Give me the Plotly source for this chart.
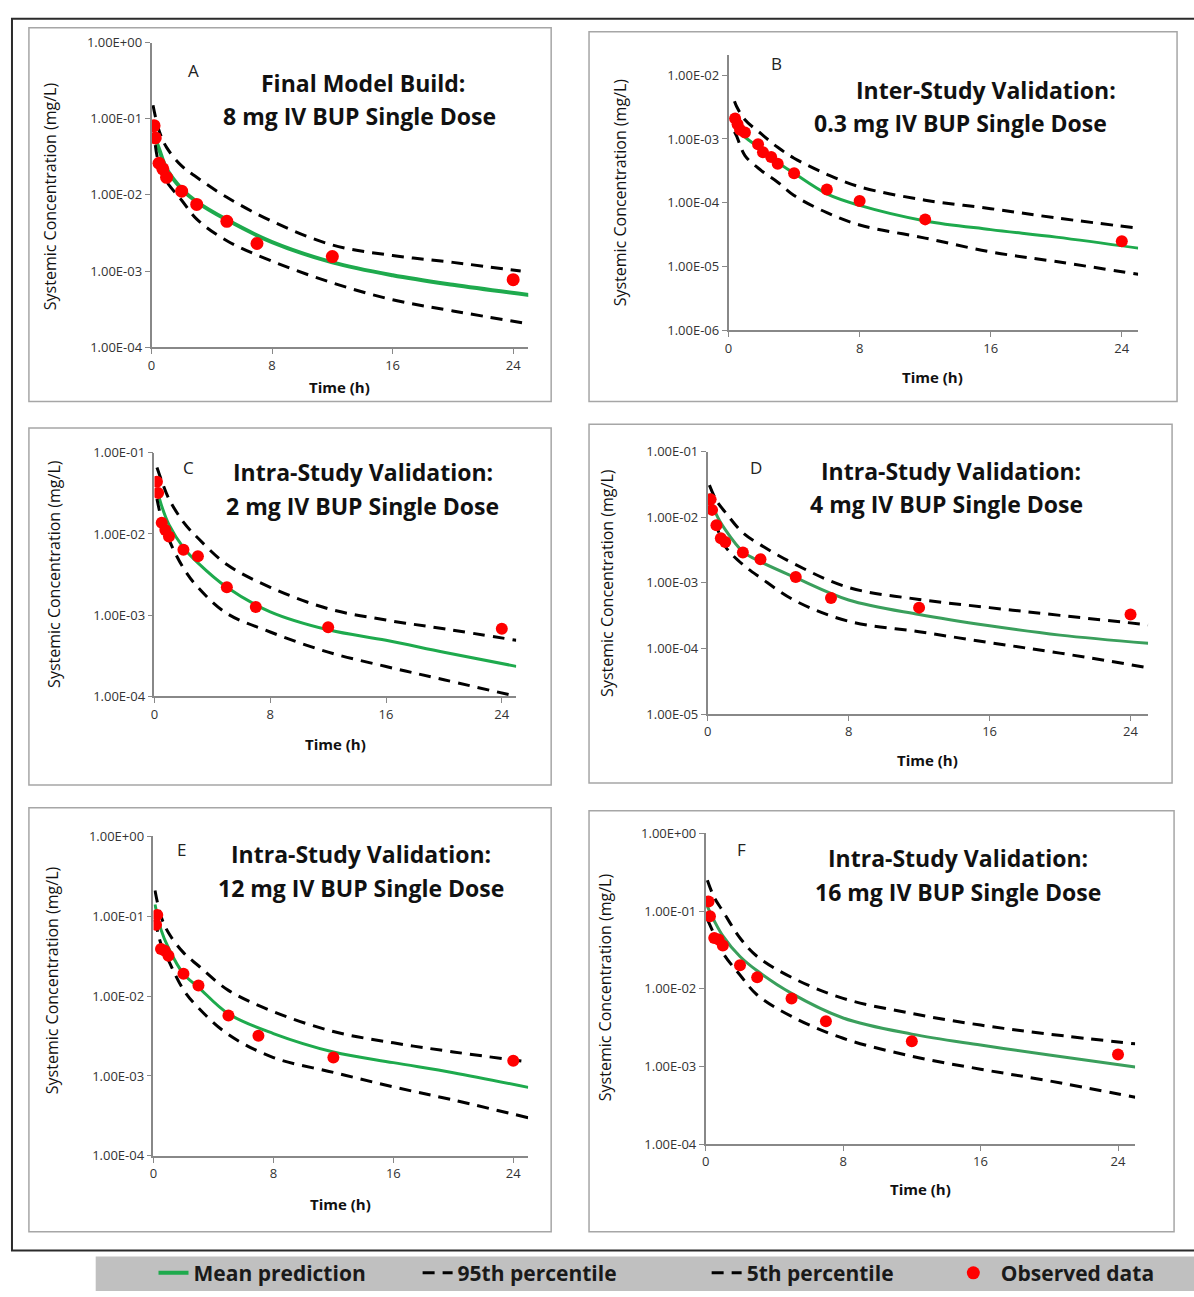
import math
import plotly.graph_objects as go

W, H = 1194, 1297

# ---------------- data ----------------
y_tick_vals = [1e0, 1e-1, 1e-2, 1e-3, 1e-4, 1e-5, 1e-6]
y_tick_text = ["1.00E+00", "1.00E-01", "1.00E-02", "1.00E-03", "1.00E-04", "1.00E-05", "1.00E-06"]
x_tick_vals = [0, 8, 16, 24]
x_tick_text = ["0", "8", "16", "24"]

# Panel A: Final Model Build, 8 mg
t_pred_A = [0.17, 0.5, 1, 2, 3, 5, 8, 12, 16, 20, 25.2]
mean_A = [0.06, 0.040, 0.022, 0.012, 0.0081, 0.0047, 0.0024, 0.0013, 0.00088, 0.00066, 0.00048]
t_p95_A = [0.1, 0.5, 1, 2, 3, 5, 8, 12, 16, 20, 24.5]
p95_A = [0.15, 0.07, 0.042, 0.024, 0.017, 0.0093, 0.0045, 0.0022, 0.0016, 0.0013, 0.001]
t_p5_A = [0.25, 0.5, 1, 2, 3, 5, 8, 12, 16, 20, 25.2]
p5_A = [0.045, 0.025, 0.015, 0.0085, 0.0048, 0.0025, 0.00135, 0.0007, 0.00042, 0.0003, 0.0002]
t_obs_A = [0.17, 0.25, 0.5, 0.75, 1, 2, 3, 5, 7, 12, 24]
obs_A = [0.081, 0.056, 0.026, 0.022, 0.017, 0.0112, 0.0075, 0.0045, 0.0023, 0.00155, 0.00077]

# Panel B: Inter-Study Validation, 0.3 mg
t_pred_B = [0.36, 0.5, 1, 2, 3, 4, 6, 8, 12, 16, 20, 25]
mean_B = [0.0018, 0.0016, 0.00108, 0.0007, 0.00043, 0.00029, 0.000138, 0.000091, 0.000052, 0.000038, 0.000029, 0.0000195]
p95_B = [0.0039, 0.0032, 0.002, 0.0012, 0.00074, 0.0005, 0.00028, 0.000178, 0.00011, 0.000081, 0.000058, 0.00004]
p5_B = [0.0013, 0.0011, 0.00055, 0.00032, 0.00021, 0.00013, 0.00007, 0.000045, 0.000028, 0.000017, 0.000012, 0.0000076]
t_obs_B = [0.4, 0.55, 0.7, 1.0, 1.8, 2.1, 2.6, 3.0, 4, 6, 8, 12, 24]
obs_B = [0.0021, 0.0017, 0.0014, 0.00126, 0.00083, 0.00062, 0.00052, 0.00041, 0.00029, 0.000162, 0.000107, 0.000055, 0.000025]

# Panel C: Intra-Study Validation, 2 mg
t_pred_C = [0.17, 0.5, 1, 2, 3, 5, 8, 12, 16, 20, 25]
mean_C = [0.036, 0.022, 0.013, 0.0068, 0.0044, 0.0022, 0.0011, 0.00066, 0.00049, 0.00035, 0.000234]
p95_C = [0.066, 0.045, 0.027, 0.014, 0.0089, 0.0042, 0.0022, 0.0012, 0.00087, 0.00068, 0.00049]
p5_C = [0.027, 0.015, 0.0085, 0.0038, 0.0022, 0.00105, 0.00062, 0.00035, 0.000233, 0.00016, 0.0001]
t_obs_C = [0.17, 0.25, 0.5, 0.75, 1, 2, 3, 5, 7, 12, 24]
obs_C = [0.044, 0.032, 0.0137, 0.0112, 0.0093, 0.0064, 0.0053, 0.0022, 0.00126, 0.00071, 0.00068]

# Panel D: Intra-Study Validation, 4 mg
t_pred_D = [0.1, 0.5, 1, 2, 3, 5, 8, 12, 16, 20, 25]
mean_D = [0.023, 0.011, 0.0065, 0.003, 0.0021, 0.0012, 0.00055, 0.00033, 0.000222, 0.00016, 0.00012]
p95_D = [0.031, 0.018, 0.012, 0.0058, 0.0038, 0.0019, 0.00085, 0.00056, 0.00042, 0.00032, 0.00023]
p5_D = [0.017, 0.0075, 0.0036, 0.0019, 0.0012, 0.00053, 0.00026, 0.00018, 0.000123, 0.000085, 0.000051]
t_obs_D = [0.17, 0.25, 0.5, 0.75, 1, 2, 3, 5, 7, 12, 24]
obs_D = [0.0188, 0.013, 0.0076, 0.0048, 0.0042, 0.0029, 0.0023, 0.00123, 0.00059, 0.00042, 0.00033]

# Panel E: Intra-Study Validation, 12 mg
t_pred_E = [0.1, 0.5, 1, 2, 3, 5, 8, 12, 16, 20, 25]
mean_E = [0.14, 0.068, 0.04, 0.019, 0.0129, 0.006, 0.0034, 0.002, 0.00147, 0.0011, 0.00072]
p95_E = [0.21, 0.1, 0.062, 0.035, 0.024, 0.0118, 0.0064, 0.0036, 0.0026, 0.002, 0.0015]
p5_E = [0.09, 0.045, 0.028, 0.012, 0.0071, 0.0033, 0.0017, 0.00111, 0.00073, 0.0005, 0.0003]
t_obs_E = [0.17, 0.25, 0.5, 0.75, 1, 2, 3, 5, 7, 12, 24]
obs_E = [0.078, 0.104, 0.039, 0.037, 0.032, 0.019, 0.0136, 0.0057, 0.0032, 0.0017, 0.00155]

# Panel F: Intra-Study Validation, 16 mg
t_pred_F = [0.1, 0.5, 1, 2, 3, 5, 8, 12, 16, 20, 25]
mean_F = [0.115, 0.075, 0.048, 0.026, 0.017, 0.0087, 0.0042, 0.0026, 0.00188, 0.0014, 0.00098]
p95_F = [0.25, 0.15, 0.1, 0.045, 0.026, 0.014, 0.0075, 0.0048, 0.0034, 0.0026, 0.00195]
p5_F = [0.078, 0.05, 0.029, 0.015, 0.0083, 0.0044, 0.0023, 0.00135, 0.00092, 0.00065, 0.0004]
t_obs_F = [0.17, 0.25, 0.5, 0.75, 1, 2, 3, 5, 7, 12, 24]
obs_F = [0.133, 0.086, 0.045, 0.043, 0.036, 0.020, 0.014, 0.0075, 0.0038, 0.0021, 0.00142]

panel_letters = ["A", "B", "C", "D", "E", "F"]
title_line1 = ["Final Model Build:", "Inter-Study Validation:", "Intra-Study Validation:",
               "Intra-Study Validation:", "Intra-Study Validation:", "Intra-Study Validation:"]
title_line2 = ["8 mg IV BUP Single Dose", "0.3 mg IV BUP Single Dose", "2 mg IV BUP Single Dose",
               "4 mg IV BUP Single Dose", "12 mg IV BUP Single Dose", "16 mg IV BUP Single Dose"]
legend_names = ["Mean prediction", "95th percentile", "5th percentile", "Observed data"]
x_title = "Time (h)"
y_title = "Systemic Concentration (mg/L)"

# ---------------- layout helpers ----------------
def px(x):
    return x / W


def py(y):
    return 1 - y / H


panels = [
    dict(plot=(148, 526, 34, 343), yr=(-4, 0), box=(25, 19, 549, 398),
         data=(t_pred_A, mean_A, t_p95_A, p95_A, t_p5_A, p5_A, t_obs_A, obs_A),
         letter=(190, 62), t1=(360, 75), t2=(357, 108), xt=(337, 383), yt=(47, 190),
         green="#1eaa4d", gw=4, ms=13),
    dict(plot=(727, 1138, 47, 326), yr=(-6, -1.69), box=(587, 23, 1177, 398),
         data=(t_pred_B, mean_B, t_pred_B, p95_B, t_pred_B, p5_B, t_obs_B, obs_B),
         letter=(775, 55), t1=(985, 82), t2=(960, 116), xt=(932, 373), yt=(618, 186),
         green="#1eaa4d", gw=3, ms=12),
    dict(plot=(151, 514, 450, 697), yr=(-4, -1), box=(25, 425, 549, 787),
         data=(t_pred_C, mean_C, t_pred_C, p95_C, t_pred_C, p5_C, t_obs_C, obs_C),
         letter=(185, 465), t1=(360, 470), t2=(360, 504), xt=(333, 745), yt=(50, 573),
         green="#1eaa4d", gw=3, ms=12),
    dict(plot=(706, 1148, 449, 715), yr=(-5, -1), box=(587, 421, 1172, 785),
         data=(t_pred_D, mean_D, t_pred_D, p95_D, t_pred_D, p5_D, t_obs_D, obs_D),
         letter=(755, 465), t1=(950, 469), t2=(946, 502), xt=(927, 762), yt=(605, 582),
         green="#3a9f5c", gw=3, ms=12),
    dict(plot=(150, 526, 839, 1163), yr=(-4, 0), box=(25, 810, 549, 1240),
         data=(t_pred_E, mean_E, t_pred_E, p95_E, t_pred_E, p5_E, t_obs_E, obs_E),
         letter=(178, 852), t1=(358, 857), t2=(358, 891), xt=(338, 1212), yt=(48, 985),
         green="#1eaa4d", gw=3, ms=12),
    dict(plot=(704, 1135, 836, 1151), yr=(-4, 0), box=(587, 813, 1174, 1240),
         data=(t_pred_F, mean_F, t_pred_F, p95_F, t_pred_F, p5_F, t_obs_F, obs_F),
         letter=(740, 852), t1=(957, 861), t2=(957, 895), xt=(920, 1197), yt=(603, 992),
         green="#3a9f5c", gw=3, ms=12),
]

fig = go.Figure()
layout = dict(autosize=True, margin=dict(l=0, r=0, t=0, b=0, pad=0),
              paper_bgcolor="white", plot_bgcolor="white", showlegend=True)
shapes = []
annotations = []

tick_font = dict(family="Open Sans", size=13, color="#333333")
DASH = "12px,8px"


def note(text, xy, size, weight="normal", angle=0, color="#111"):
    return dict(text=text, x=px(xy[0]), y=py(xy[1]), xref="paper", yref="paper",
                xanchor="center", yanchor="middle", showarrow=False, textangle=angle,
                font=dict(family="Open Sans", size=size, color=color, weight=weight))


for i, p in enumerate(panels):
    n = "" if i == 0 else str(i + 1)
    xa, ya = "x" + n, "y" + n
    x0, x1, y0, y1 = p["plot"]
    tp, mv, t95, v95, t5, v5, to, vo = p["data"]
    first = i == 0
    fig.add_trace(go.Scatter(x=tp, y=mv, mode="lines", xaxis=xa, yaxis=ya,
                             line=dict(color=p["green"], width=p["gw"], shape="spline", smoothing=1.0),
                             name=legend_names[0], showlegend=first, legend="legend"))
    fig.add_trace(go.Scatter(x=t95, y=v95, mode="lines", xaxis=xa, yaxis=ya,
                             line=dict(color="black", width=3, dash=DASH, shape="spline", smoothing=1.0),
                             name=legend_names[1], showlegend=first, legend="legend2"))
    fig.add_trace(go.Scatter(x=t5, y=v5, mode="lines", xaxis=xa, yaxis=ya,
                             line=dict(color="black", width=3, dash=DASH, shape="spline", smoothing=1.0),
                             name=legend_names[2], showlegend=first, legend="legend3"))
    fig.add_trace(go.Scatter(x=to, y=vo, mode="markers", xaxis=xa, yaxis=ya,
                             marker=dict(color="#ff0000", size=p["ms"]),
                             name=legend_names[3], showlegend=first, legend="legend4"))

    lo, hi = p["yr"]
    keep = [lo - 1e-6 <= math.log10(v) <= hi + 1e-6 for v in y_tick_vals]
    yv = [v for v, k in zip(y_tick_vals, keep) if k]
    ytx = [t for t, k in zip(y_tick_text, keep) if k]
    layout["xaxis" + n] = dict(domain=[px(x0), px(x1)], anchor=ya, range=[0, 25],
                              tickvals=x_tick_vals, ticktext=x_tick_text, ticks="outside", ticklen=5,
                              tickcolor="#888", showline=True, linecolor="#888", linewidth=1.5,
                              showgrid=False, zeroline=False, tickfont=tick_font)
    layout["yaxis" + n] = dict(domain=[py(y1), py(y0)], anchor=xa, type="log", range=[lo, hi],
                              tickvals=yv, ticktext=ytx, ticks="outside", ticklen=5,
                              tickcolor="#888", showline=True, linecolor="#888", linewidth=1.5,
                              showgrid=False, zeroline=False, tickfont=tick_font)

    bx0, by0, bx1, by1 = p["box"]
    shapes.append(dict(type="rect", xref="paper", yref="paper", x0=px(bx0), x1=px(bx1),
                       y0=py(by1), y1=py(by0), line=dict(color="#a6a6a6", width=1.5)))
    annotations.append(note(panel_letters[i], p["letter"], 17, color="#222"))
    annotations.append(note(title_line1[i], p["t1"], 23, "bold"))
    annotations.append(note(title_line2[i], p["t2"], 23, "bold"))
    annotations.append(note(x_title, p["xt"], 15, "bold"))
    annotations.append(note(y_title, p["yt"], 16, angle=-90))

# outer border and legend band
shapes.append(dict(type="rect", xref="paper", yref="paper", x0=px(8), x1=px(1205),
                   y0=py(1259), y1=py(10), line=dict(color="#2b2b2b", width=2)))
shapes.append(dict(type="rect", xref="paper", yref="paper", x0=px(92), x1=px(1200),
                   y0=py(1300), y1=py(1265), fillcolor="#c0c0c0", line=dict(width=0), layer="below"))

leg_font = dict(family="Open Sans", size=21, color="#1a1a1a", weight="bold")
leg_common = dict(orientation="h", yanchor="middle", xanchor="left", y=py(1282),
                  bgcolor="rgba(0,0,0,0)", borderwidth=0, font=leg_font)
layout["legend"] = dict(x=px(150), **leg_common)
layout["legend2"] = dict(x=px(415), **leg_common)
layout["legend3"] = dict(x=px(705), **leg_common)
layout["legend4"] = dict(x=px(945), itemwidth=45, **leg_common)

layout["shapes"] = shapes
layout["annotations"] = annotations
fig.update_layout(**layout)
# pin the plot div to the page origin so the page is exactly W x H
fig.write_html("out.html",
               default_width=f"{W}px",
               default_height=f"{H}px; position:absolute; left:0px; top:0px")
